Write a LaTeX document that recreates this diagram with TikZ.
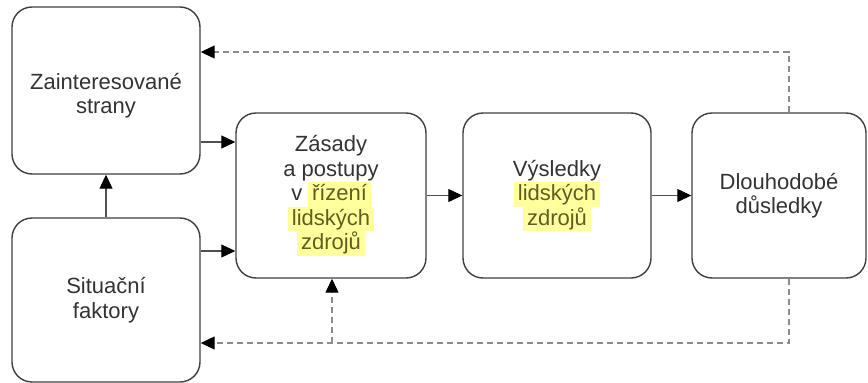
\documentclass[tikz,border=0pt]{standalone}
\usepackage{fontspec}
\setmainfont{Liberation Sans}
\usetikzlibrary{arrows.meta,calc}
\definecolor{boxline}{HTML}{404040}
\definecolor{txt}{HTML}{333333}
\definecolor{hlbg}{HTML}{FFFF9C}
\definecolor{hltxt}{HTML}{5E5E24}
\definecolor{arrline}{HTML}{505050}
\definecolor{dashline}{HTML}{8C8C8C}
% highlighted word: yellow band exactly one text line high
\newcommand{\hlword}[1]{{\setlength{\fboxsep}{0pt}\colorbox{hlbg}{\,\rule[-6pt]{0pt}{24.5pt}\color{hltxt}#1\,}}}
\tikzset{
  box/.style={draw=boxline, line width=1.4pt, rounded corners=20pt, fill=white,
    inner sep=0pt, align=center, text=txt,
    font=\fontsize{22}{24.5}\selectfont},
  arr/.style={draw=arrline, line width=1.1pt, -{Triangle[length=14pt,width=13pt,color=black]}},
  darr/.style={draw=dashline, line width=1.2pt, dash pattern=on 6pt off 4pt,
    -{Triangle[length=14pt,width=13pt,color=black]}},
}
\begin{document}
\begin{tikzpicture}[x=1pt,y=-1pt]
  \useasboundingbox[fill=white] (0,0) rectangle (868,383);

  \node[box, minimum width=188pt, minimum height=167pt] (zaint) at (106,90.5)
    {\rule{0pt}{27pt}Zainteresované\\strany};
  \node[box, minimum width=188pt, minimum height=164pt] (situ) at (106,300)
    {Situační\\faktory};
  \node[box, minimum width=190pt, minimum height=165pt] (zas) at (331,195.5)
    {Zásady\\a postupy\\v \hlword{řízení}\\\hlword{lidských}\\\hlword{zdrojů}};
  \node[box, minimum width=188pt, minimum height=165pt] (vys) at (557,195.5)
    {Výsledky\\\hlword{lidských}\\\hlword{zdrojů}};
  \node[box, minimum width=174pt, minimum height=165pt] (dl) at (779,195.5)
    {Dlouhodobé\\důsledky};

  % solid flow
  \coordinate (z1) at ([yshift=-51.5pt]zaint.east);
  \coordinate (s1) at ([yshift=49pt]situ.east);
  \draw[arr] (z1) -- (z1 -| zas.west);
  \draw[arr] (s1) -- (s1 -| zas.west);
  \draw[arr] (situ.north) -- (zaint.south);
  \draw[arr] (zas.east) -- (vys.west);
  \draw[arr] (vys.east) -- (dl.west);

  % dashed feedback loops
  \coordinate (ftop) at ([yshift=38.5pt]zaint.east);
  \coordinate (fbot) at ([yshift=-43pt]situ.east);
  \draw[darr] ([xshift=10pt]dl.north) |- (ftop);
  \draw[darr] ([xshift=10pt]dl.south) |- (fbot);
  \draw[darr] ([xshift=1pt]zas.south |- fbot) -- ([xshift=1pt]zas.south);
\end{tikzpicture}
\end{document}
